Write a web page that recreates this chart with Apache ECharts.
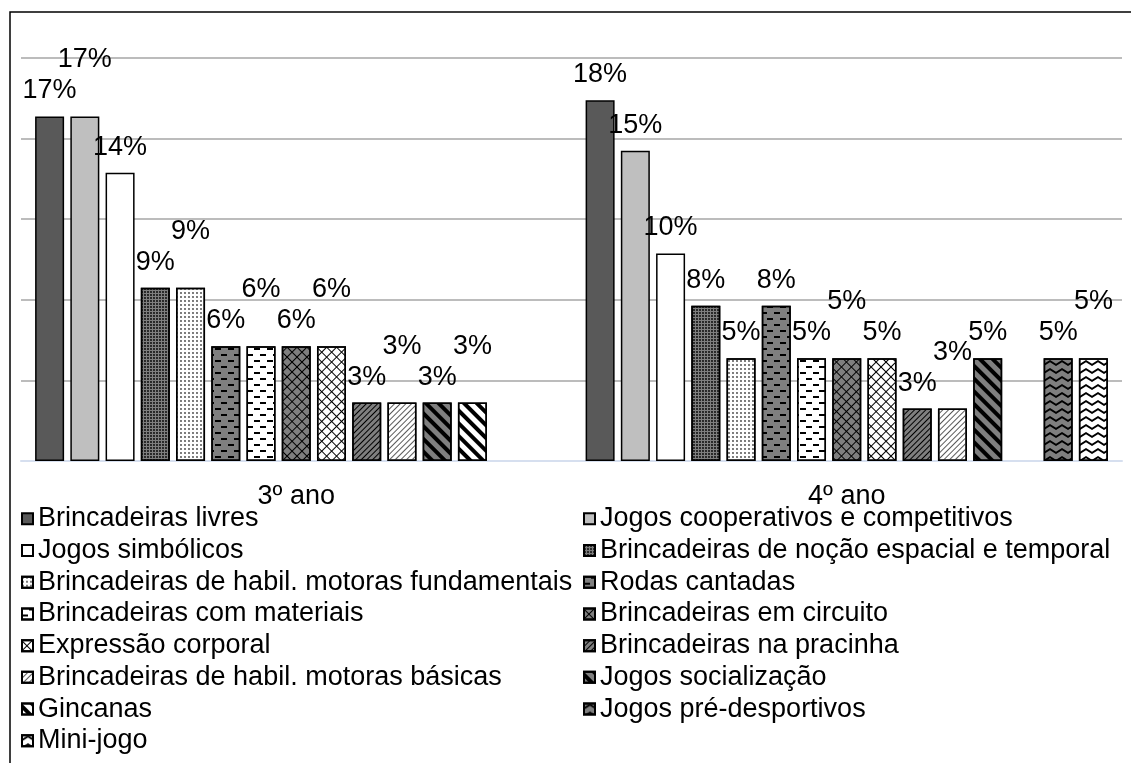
<!DOCTYPE html>
<html>
<head>
<meta charset="utf-8">
<script src="https://cdn.jsdelivr.net/npm/echarts@6/dist/echarts.min.js"></script>
<style>
  html, body { margin: 0; padding: 0; background: #fff; }
  #chart { width: 1131px; height: 763px; }
</style>
</head>
<body>
<div id="chart"></div>
<script>
// categorias e séries
const categories = ['3º ano', '4º ano']
const seriesNames = [
  'Brincadeiras livres',
  'Jogos cooperativos e competitivos',
  'Jogos simbólicos',
  'Brincadeiras de noção espacial e temporal',
  'Brincadeiras de habil. motoras fundamentais',
  'Rodas cantadas',
  'Brincadeiras com materiais',
  'Brincadeiras em circuito',
  'Expressão corporal',
  'Brincadeiras na pracinha',
  'Brincadeiras de habil. motoras básicas',
  'Jogos socialização',
  'Gincanas',
  'Jogos pré-desportivos',
  'Mini-jogo'
]
// valores (%)
const values3ano = [17.1, 17.1, 14.3, 8.6, 8.6, 5.7, 5.7, 5.7, 5.7, 2.9, 2.9, 2.9, 2.9, 0, 0]
const values4ano = [17.9, 15.4, 10.3, 7.7, 5.1, 7.7, 5.1, 5.1, 5.1, 2.6, 2.6, 5.1, 0, 5.1, 5.1]
const yTicks = [0, 4, 8, 12, 16, 20]

const FONT = 'Liberation Sans, Arial, sans-serif'
const GRAY = '#7f7f7f'

const chevron = 'path://M0,5 L6,0 L12,5 L12,8 L6,3 L0,8 Z'
const dots = { symbol: 'circle', dashArrayX: [2, 1], dashArrayY: [2, 1], symbolSize: 0.9 }
const dashes = { symbol: 'rect', dashArrayX: [[6, 7], [0, 7, 6, 0]], dashArrayY: [2, 4], symbolSize: 1 }
const cross = { symbol: 'rect', dashArrayX: [[7, 0], [1, 6]], dashArrayY: [1, 0, 6, 0], rotation: Math.PI / 4, symbolSize: 1 }
const thin = { symbol: 'rect', dashArrayX: [1, 0], dashArrayY: [1, 3], rotation: -Math.PI / 4, symbolSize: 1 }
const thick = { symbol: 'rect', dashArrayX: [1, 0], dashArrayY: [4, 5], rotation: Math.PI / 4, symbolSize: 1 }
const wave = { symbol: chevron, dashArrayX: [12, 0], dashArrayY: [6, 2], symbolSize: 1, symbolKeepAspect: false }

// estilo de cada série (cor de fundo + padrão)
const styles = [
  { color: '#595959' },
  { color: '#bfbfbf' },
  { color: '#ffffff' },
  { color: GRAY, decal: Object.assign({ color: '#000' }, dots) },
  { color: '#ffffff', decal: Object.assign({ color: '#404040' }, dots, { dashArrayX: [2, 2], dashArrayY: [2, 2] }) },
  { color: GRAY, decal: Object.assign({ color: '#000' }, dashes) },
  { color: '#ffffff', decal: Object.assign({ color: '#000' }, dashes) },
  { color: GRAY, decal: Object.assign({ color: '#000' }, cross) },
  { color: '#ffffff', decal: Object.assign({ color: '#000' }, cross) },
  { color: GRAY, decal: Object.assign({ color: '#000' }, thin) },
  { color: '#ffffff', decal: Object.assign({ color: '#595959' }, thin) },
  { color: GRAY, decal: Object.assign({ color: '#000' }, thick) },
  { color: '#ffffff', decal: Object.assign({ color: '#000' }, thick) },
  { color: GRAY, decal: Object.assign({ color: '#000' }, wave) },
  { color: '#ffffff', decal: Object.assign({ color: '#000' }, wave) }
]

// rótulos iguais e vizinhos sobem (como no Excel)
const raised = [values3ano, values4ano].map(vals => {
  const out = []
  let prev = null
  let prevRaised = false
  vals.forEach(v => {
    const r = Math.round(v)
    const up = v !== 0 && r === prev && !prevRaised
    out.push(up)
    prev = v === 0 ? null : r
    prevRaised = up
  })
  return out
})

const series = seriesNames.map((name, i) => ({
  name,
  type: 'bar',
  barWidth: 29,
  barGap: '21.5%',
  itemStyle: Object.assign({ borderColor: '#000', borderWidth: 1.5 }, styles[i]),
  label: {
    show: true,
    position: 'top',
    distance: 12,
    color: '#000',
    fontFamily: FONT,
    fontSize: 27,
    formatter: p => Math.round(p.value) + '%'
  },
  data: [values3ano[i], values4ano[i]].map((v, c) => {
    if (v === 0) return null
    return raised[c][i] ? { value: v, label: { offset: [0, -31] } } : v
  })
}))

const legendText = { color: '#000', fontFamily: FONT, fontSize: 27, lineHeight: 31.7 }
const legendBase = {
  orient: 'vertical', top: 503, height: 260, padding: 0,
  icon: 'rect', itemWidth: 11, itemHeight: 11, itemGap: 0,
  textStyle: legendText
}
const chart = echarts.init(document.getElementById('chart'))
chart.setOption({
  animation: false,
  backgroundColor: '#fff',
  graphic: [{
    type: 'rect', silent: true, z: 100,
    shape: { x: 10, y: 12, width: 1300, height: 900 },
    style: { fill: 'none', stroke: '#000', lineWidth: 1.5 }
  }],
  grid: { left: 21, right: 9, top: 58, bottom: 302 },
  legend: [
    Object.assign({ left: 21, data: seriesNames.filter((n, i) => i % 2 === 0) }, legendBase),
    Object.assign({ left: 583, data: seriesNames.filter((n, i) => i % 2 === 1) }, legendBase)
  ],
  xAxis: {
    type: 'category',
    data: categories,
    axisLine: { lineStyle: { color: '#d6dfef', width: 2 } },
    axisTick: { length: 8, lineStyle: { color: '#d6dfef', width: 2 } },
    axisLabel: { color: '#000', fontFamily: FONT, fontSize: 27, margin: 22 }
  },
  yAxis: {
    type: 'value',
    min: yTicks[0],
    max: yTicks[yTicks.length - 1],
    interval: yTicks[1] - yTicks[0],
    axisLabel: { show: false },
    axisLine: { show: false },
    axisTick: { show: false },
    splitLine: { lineStyle: { color: '#a6a6a6', width: 1.5 } }
  },
  series
})
</script>
</body>
</html>
